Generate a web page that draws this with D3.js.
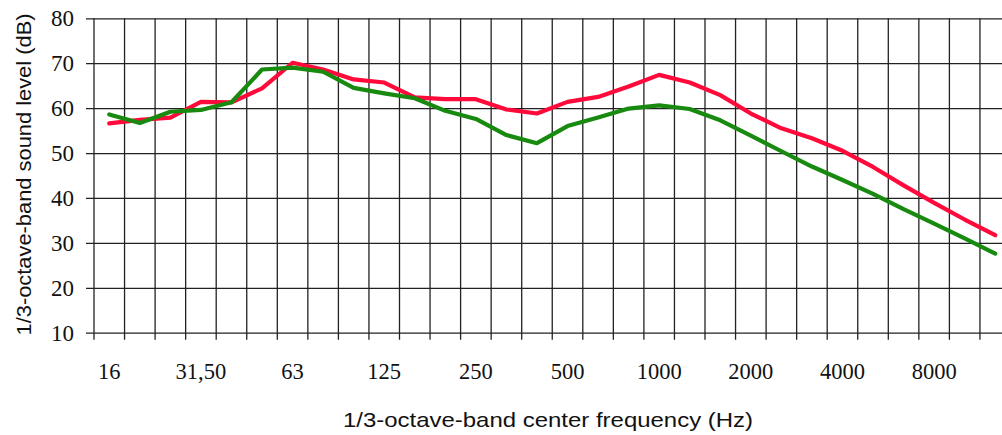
<!DOCTYPE html>
<html><head><meta charset="utf-8">
<script src="https://cdn.jsdelivr.net/npm/d3@7"></script>
<style>html,body{margin:0;padding:0;background:#fff;}svg{display:block;}</style>
</head><body>
<svg id="c" width="1002" height="435"></svg>
<script>
const bands = ["16","20","25","31.5","40","50","63","80","100","125","160","200","250","315","400","500","630","800","1000","1250","1600","2000","2500","3150","4000","5000","6300","8000","10000","12500"];
const tickLabels = {"16":"16","31.5":"31,50","63":"63","125":"125","250":"250","500":"500","1000":"1000","2000":"2000","4000":"4000","8000":"8000"};
const redSeries = [56.6,57.4,57.9,61.4,61.3,64.4,70.1,68.6,66.4,65.7,62.4,62.0,62.0,59.7,58.8,61.4,62.5,64.8,67.4,65.7,62.9,58.8,55.5,53.3,50.5,46.9,42.8,38.9,35.2,31.7];
const greenSeries = [58.6,56.7,59.2,59.6,61.3,68.6,69.0,68.1,64.5,63.3,62.2,59.4,57.6,54.0,52.2,56.0,57.9,59.9,60.6,59.8,57.3,53.9,50.4,47.0,44.0,40.9,37.5,34.3,31.0,27.6];
const yTicks = [10,20,30,40,50,60,70,80];

(function(){
const svg = d3.select("#c");
const pLeft = 94, pTop = 18.3, pBottom = 332.7, bandW = 30.55;
const x = d3.scaleBand().domain(bands).range([pLeft, pLeft + bands.length*bandW]).paddingInner(0).paddingOuter(0);
const y = d3.scaleLinear().domain([10,80]).range([pBottom, pTop]);

// horizontal grid
const gy = svg.append("g").attr("transform", `translate(86,0)`)
  .call(d3.axisRight(y).tickValues(yTicks).tickSize(1002-86).tickFormat(""));
gy.select(".domain").remove();
gy.selectAll("line").attr("stroke","#222").attr("stroke-width",1.3);

// vertical grid (band boundaries)
const boundaries = bands.map(b => x(b));
svg.append("g").selectAll("line").data(boundaries).join("line")
  .attr("x1", d=>d).attr("x2", d=>d).attr("y1", pTop).attr("y2", pBottom+7)
  .attr("stroke","#222").attr("stroke-width",1.3);

// y tick labels
svg.append("g").selectAll("text").data(yTicks).join("text")
  .attr("x", 74).attr("y", d=>y(d)).attr("dy","0.35em").attr("text-anchor","end")
  .attr("font-family","'Liberation Serif','Times New Roman',serif").attr("font-size",23).attr("fill","#111")
  .text(d=>d);

// x tick labels
svg.append("g").selectAll("text").data(bands.filter(b=>tickLabels[b])).join("text")
  .attr("x", d=>x(d)+x.bandwidth()/2).attr("y", 379).attr("text-anchor","middle")
  .attr("font-family","'Liberation Serif','Times New Roman',serif").attr("font-size",22.5).attr("fill","#111")
  .text(d=>tickLabels[d]);

// lines
const line = d3.line().x((d,i)=>x(bands[i])+x.bandwidth()/2).y(d=>y(d));
svg.append("path").datum(redSeries).attr("d", line).attr("fill","none")
  .attr("stroke","#ff0a3a").attr("stroke-width",4.2).attr("stroke-linejoin","round").attr("stroke-linecap","round");
svg.append("path").datum(greenSeries).attr("d", line).attr("fill","none")
  .attr("stroke","#178a0f").attr("stroke-width",4.2).attr("stroke-linejoin","round").attr("stroke-linecap","round");

// axis titles
svg.append("text").attr("x", 548).attr("y", 427).attr("text-anchor","middle")
  .attr("font-family","'Liberation Sans',Arial,sans-serif").attr("font-size",21).attr("fill","#111")
  .attr("textLength",410).attr("lengthAdjust","spacingAndGlyphs")
  .text("1/3-octave-band center frequency (Hz)");
svg.append("text").attr("transform","translate(31,174.5) rotate(-90)").attr("text-anchor","middle")
  .attr("font-family","'Liberation Sans',Arial,sans-serif").attr("font-size",21).attr("fill","#111")
  .attr("textLength",322).attr("lengthAdjust","spacingAndGlyphs")
  .text("1/3-octave-band sound level (dB)");
})();
</script>
</body></html>
